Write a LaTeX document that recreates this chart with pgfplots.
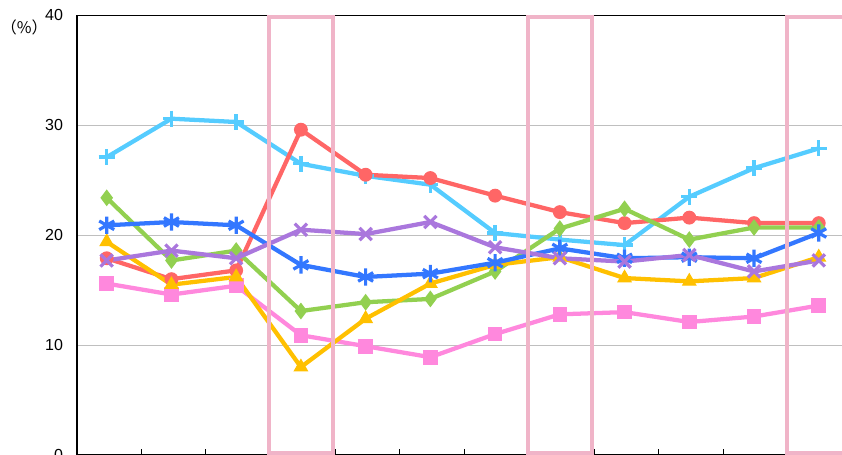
\documentclass[border=0pt]{standalone}
\usepackage{fontspec}
\setmainfont{Liberation Sans}
\newfontfamily\cjk{Noto Sans CJK JP}
\usepackage{pgfplots}
\pgfplotsset{compat=1.18}
\definecolor{cRed}{HTML}{FF6666}
\definecolor{cSky}{HTML}{55CCFF}
\definecolor{cGreen}{HTML}{92D050}
\definecolor{cBlue}{HTML}{3377FF}
\definecolor{cPurple}{HTML}{AA77DD}
\definecolor{cOrange}{HTML}{FFC000}
\definecolor{cPink}{HTML}{FF88DD}
\definecolor{cBox}{HTML}{F0B4C8}
\begin{document}
\begin{tikzpicture}
\path[use as bounding box] (-57.75pt,0.75pt) rectangle (573.75pt,341.25pt);
\clip (-57.75pt,0.75pt) rectangle (573.75pt,341.25pt);
\begin{axis}[
  at={(0pt,0pt)}, anchor=south west,
  scale only axis, width=578.6pt, height=329.7pt,
  xmin=0.541, xmax=12.459, ymin=0, ymax=40,
  ytick={0,10,20,30,40},
  ymajorgrids, grid style={color=black!25, line width=0.75pt},
  xtick={1.53,2.53,3.53,4.53,5.53,6.53,7.53,8.53,9.53,10.53,11.53},
  xticklabels={},
  xtick pos=bottom, ytick pos=left,
  xtick style={draw=black, line width=0.75pt},
  ytick style={draw=none},
  tick align=inside, major tick length=4.5pt,
  axis line style={black, line width=1.1pt},
  /pgf/number format/assume math mode=true,
  yticklabel style={font=\fontsize{12}{14}\selectfont, xshift=-7pt},
  every axis plot/.append style={line width=3.2pt},
]
% light pink squares
\addplot[cPink, mark=square*, mark size=5pt, mark options={line width=1pt}] coordinates {
(1,15.6)(2,14.6)(3,15.4)(4,10.9)(5,9.9)(6,8.9)(7,11.0)(8,12.8)(9,13.0)(10,12.1)(11,12.6)(12,13.6)};
% sky blue plus
\addplot[cSky, mark=+, mark size=6pt, mark options={line width=2.6pt}] coordinates {
(1,27.1)(2,30.6)(3,30.3)(4,26.5)(5,25.4)(6,24.6)(7,20.2)(8,19.6)(9,19.1)(10,23.5)(11,26.1)(12,27.9)};
% red circles
\addplot[cRed, mark=*, mark size=4.7pt, mark options={line width=1pt}] coordinates {
(1,17.9)(2,16.0)(3,16.8)(4,29.6)(5,25.5)(6,25.2)(7,23.6)(8,22.1)(9,21.1)(10,21.6)(11,21.1)(12,21.1)};
% green diamonds
\addplot[cGreen, mark=diamond*, mark size=5.5pt, mark options={line width=1pt}] coordinates {
(1,23.4)(2,17.7)(3,18.6)(4,13.1)(5,13.9)(6,14.2)(7,16.7)(8,20.6)(9,22.4)(10,19.6)(11,20.7)(12,20.7)};
% orange triangles
\addplot[cOrange, mark=triangle*, mark size=5.5pt, mark options={line width=1pt}] coordinates {
(1,19.4)(2,15.5)(3,16.2)(4,8.0)(5,12.4)(6,15.6)(7,17.3)(8,18.0)(9,16.1)(10,15.8)(11,16.1)(12,18.0)};
% blue asterisks
\addplot[cBlue, mark=asterisk, mark size=6.5pt, mark options={line width=2.4pt}] coordinates {
(1,20.9)(2,21.2)(3,20.9)(4,17.3)(5,16.2)(6,16.5)(7,17.5)(8,18.8)(9,17.9)(10,18.0)(11,17.9)(12,20.2)};
% purple x
\addplot[cPurple, mark=x, mark size=6.5pt, mark options={line width=2.4pt}] coordinates {
(1,17.7)(2,18.6)(3,17.9)(4,20.5)(5,20.1)(6,21.2)(7,18.9)(8,17.9)(9,17.6)(10,18.2)(11,16.7)(12,17.7)};
% highlight boxes
\draw[cBox, line width=3pt] (axis cs:3.51,0.18) rectangle (axis cs:4.5,39.82);
\draw[cBox, line width=3pt] (axis cs:7.51,0.18) rectangle (axis cs:8.5,39.82);
\draw[cBox, line width=3pt] (axis cs:11.51,0.18) rectangle (axis cs:12.5,39.82);
\end{axis}
\node[font=\cjk\fontsize{12}{14}\selectfont, inner sep=0pt] at (-39.5pt,320.5pt) {（\%）};
\end{tikzpicture}
\end{document}
